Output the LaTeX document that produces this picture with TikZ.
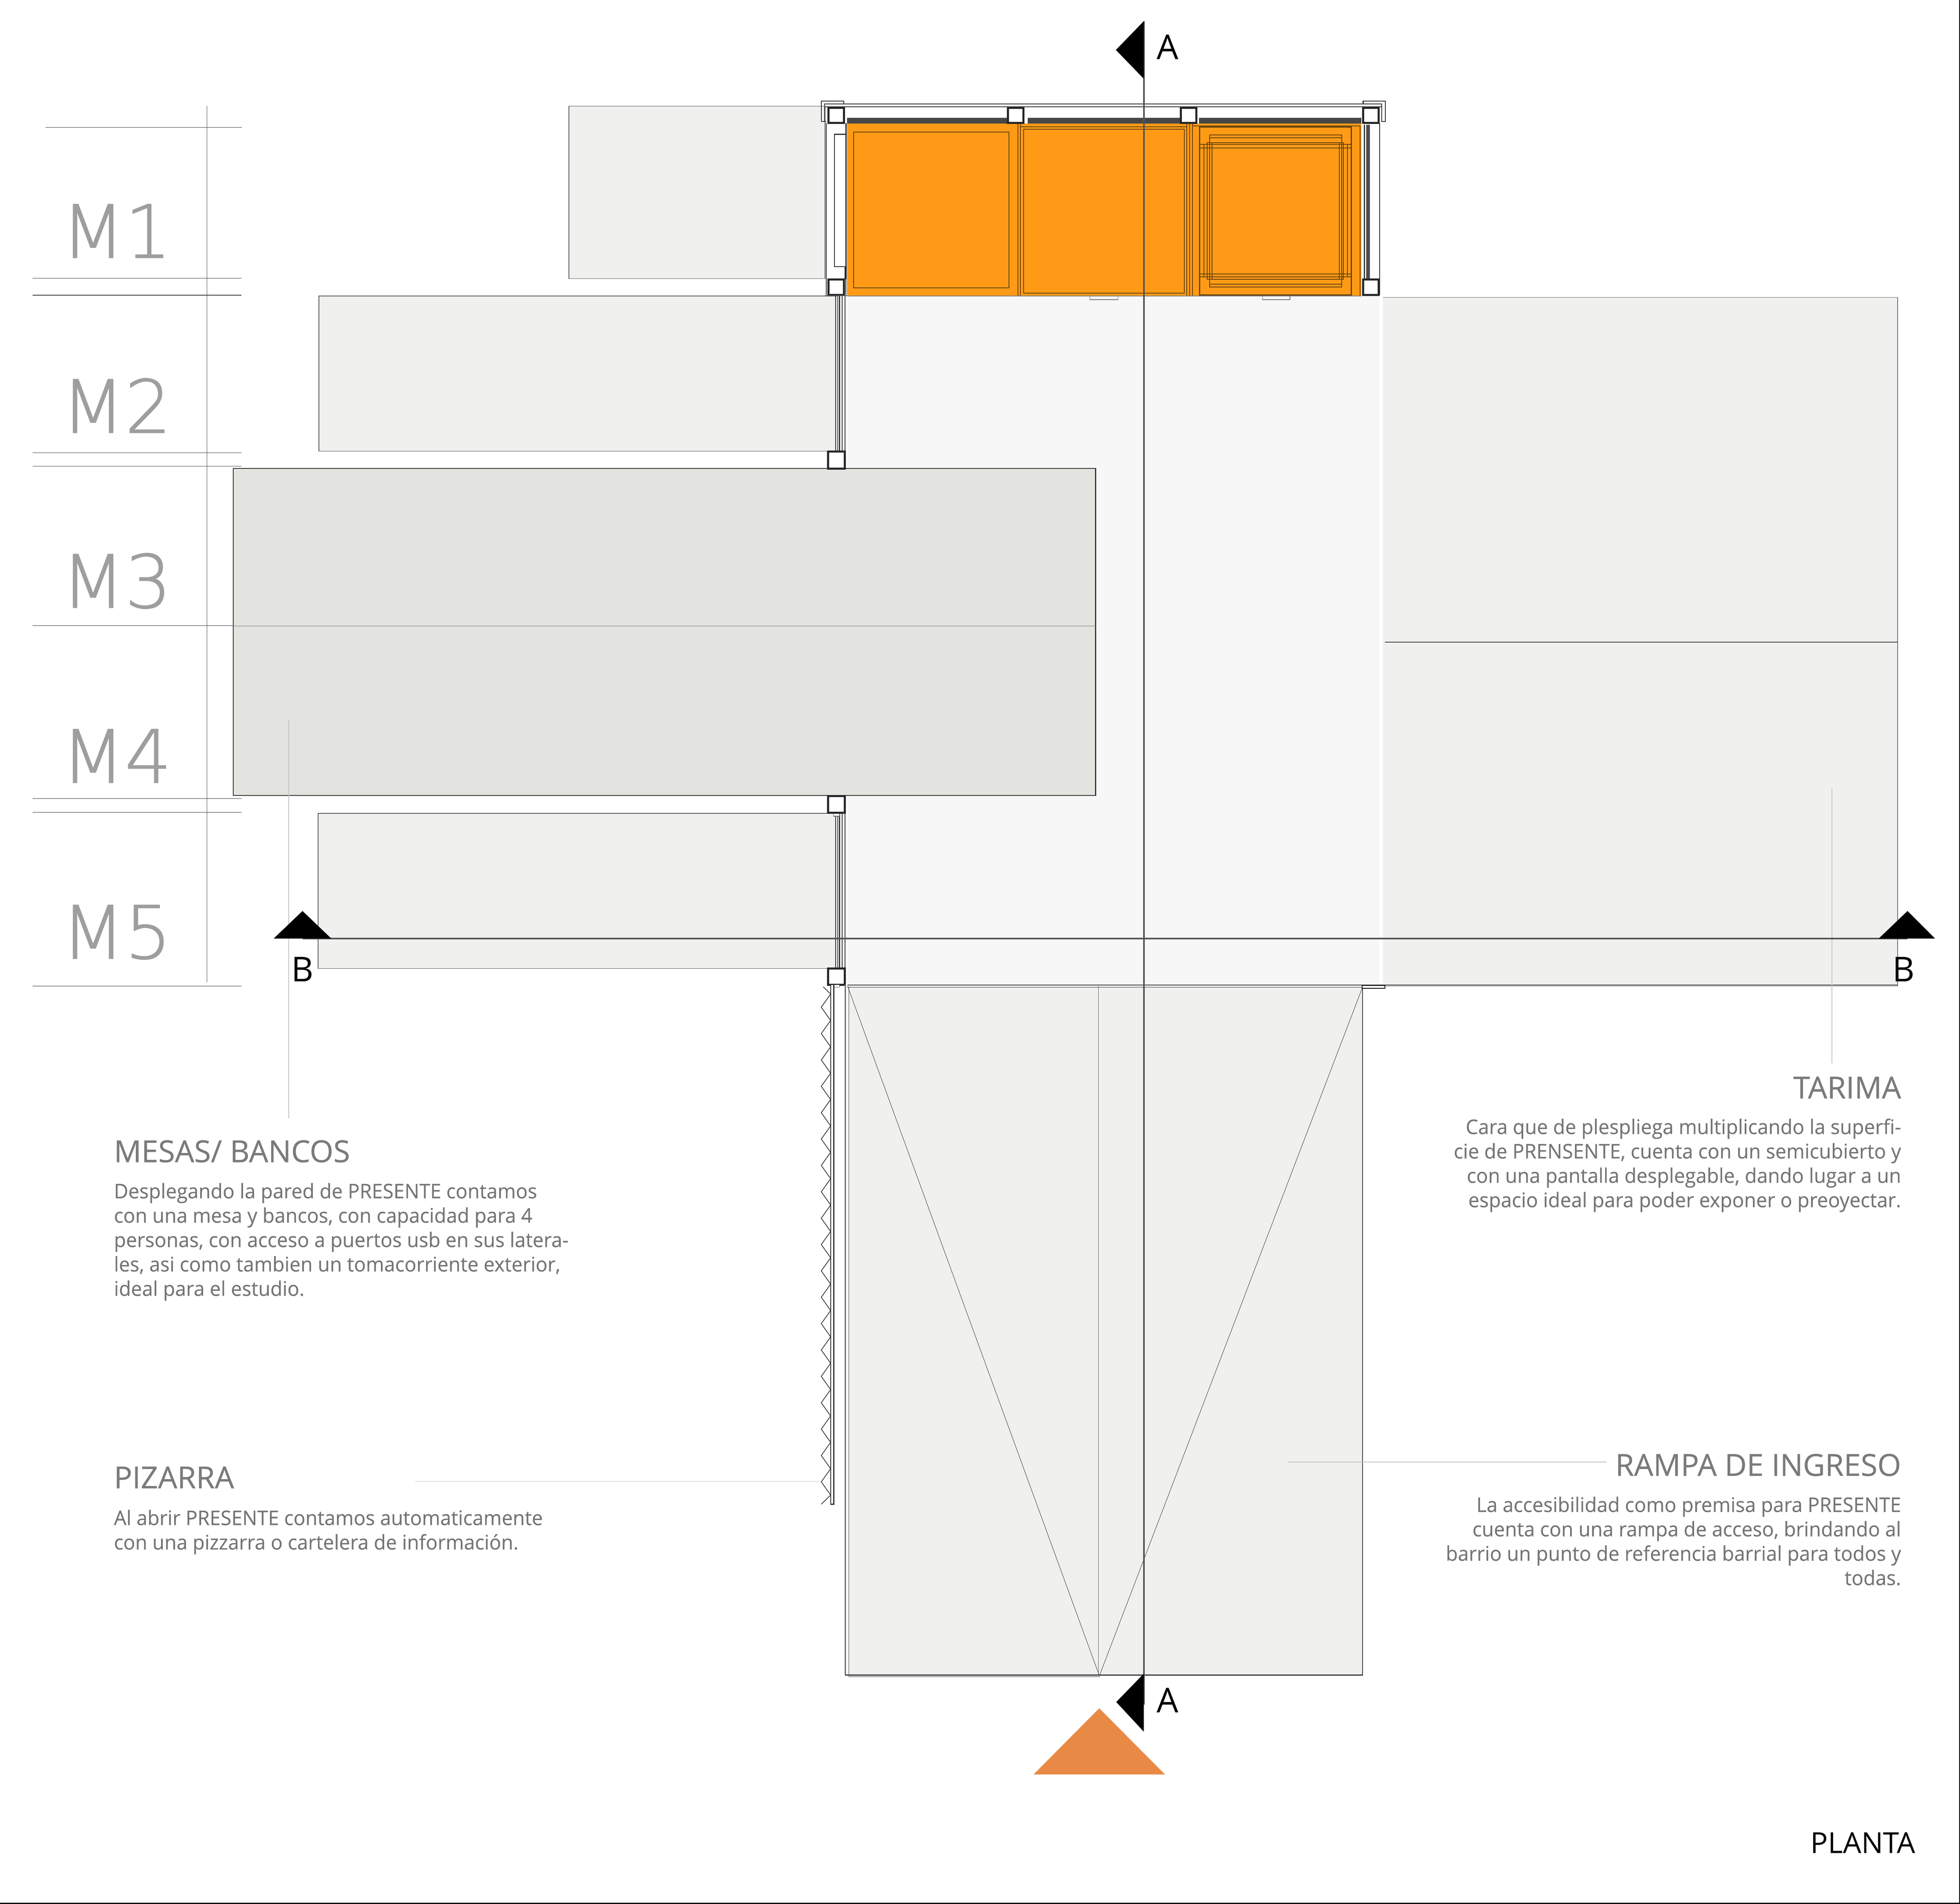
\documentclass[tikz,border=0pt]{standalone}
\usepackage{fontspec}
\setmainfont{Open Sans}[FakeStretch=0.975,FakeBold=0.12]
\newfontfamily\headfont{Open Sans}[FakeStretch=1.0,FakeBold=0.35]
\newfontfamily\numfont{DejaVu Sans ExtraLight}[FakeStretch=1.0,FakeBold=1.0]
\newfontfamily\lblfont{Open Sans}
\definecolor{benchfill}{HTML}{F0F0EF}
\definecolor{tablefill}{HTML}{E3E4E0}
\definecolor{floorfill}{HTML}{F7F7F7}
\definecolor{modorange}{HTML}{FF9A17}
\definecolor{panelline}{HTML}{6B4310}
\definecolor{cutline}{HTML}{555555}
\definecolor{headtext}{HTML}{7A7A7A}
\definecolor{bodytext}{HTML}{747474}
\definecolor{modtext}{HTML}{9E9E9E}
\definecolor{leader}{HTML}{C4C4C4}
\definecolor{entry}{HTML}{E88A45}
\tikzset{
  bench/.style={fill=benchfill,draw=black!65,line width=.18pt},
  guide/.style={draw=black!75,line width=.12pt},
  leadline/.style={draw=leader,line width=.15pt},
  column/.style={fill=white,draw=black!85,line width=.5pt},
  wallline/.style={draw=black!80,line width=.22pt},
  panel/.style={draw=panelline,line width=.2pt},
  panelthick/.style={draw=panelline,line width=.3pt},
  section/.style={draw=cutline,line width=.4pt},
  modlabel/.style={font=\numfont\fontsize{18}{18}\selectfont,text=modtext,anchor=base west,inner sep=0pt},
  cutlabel/.style={font=\lblfont\fontsize{8.4}{8.4}\selectfont,text=black,anchor=base,inner sep=0pt},
  headlabel/.style={font=\headfont\fontsize{7.45}{8}\selectfont,text=headtext,inner sep=0pt},
  bodylabel/.style={font=\fontsize{4.95}{5.98}\selectfont,text=bodytext,inner sep=0pt},
}
\begin{document}
\begin{tikzpicture}[x=0.3065pt,y=-0.3065pt]
\useasboundingbox (0,0) rectangle (1568,1523.6);
\fill[white] (0,0) rectangle (1568,1523.6);
\draw[draw=black,line width=.25pt] (1567.6,0) -- (1567.6,1523.2) -- (0,1523.2);
% floor + benches
\fill[floorfill] (678,237) rectangle (1103.4,789);
\path[bench] (455,85) rectangle (660,223);
\path[bench] (255,237) rectangle (670,361);
\path[bench] (254.5,651) rectangle (670,775);
\fill[benchfill] (1106.3,238) rectangle (1518,789);
\draw[draw=black!55,line width=.15pt] (1106.3,238) -- (1518,238) -- (1518,789) -- (1106.3,789);
\draw[draw=black!75,line width=.2pt] (1108,514) -- (1518,514);
% ramp
\fill[benchfill] (678,789) rectangle (1090,1341);
\draw[draw=black!75,line width=.22pt] (676.2,789) -- (676.2,1340.4) -- (1090,1340.4) -- (1090,790);
\draw[draw=black!70,line width=.12pt] (679,789.5) -- (679,1341.8) -- (880,1341.8);
\draw[draw=black!65,line width=.12pt] (878.8,789) -- (878.8,1341);
\draw[draw=black!75,line width=.1pt] (678,789) -- (879.5,1341) -- (1090,790);
\draw[draw=black!80,line width=.15pt] (678,790) -- (1090,790);
\draw[draw=black!75,line width=.2pt] (678,788.4) -- (1518,788.4);
\draw[fill=white,draw=black,line width=.2pt] (1089.6,788.5) rectangle (1108,791);
% table
\path[fill=tablefill,draw=black!80,line width=.22pt] (186.5,375) rectangle (876.5,636.5);
\draw[draw=black!55,line width=.12pt] (186.5,501) -- (876.5,501);
% guides
\draw[guide] (165.5,85) -- (165.5,786);
\draw[guide] (36.5,102) -- (193.5,102);
\foreach \yy in {222.7,236.2,362.2,373.2,639,650,789}
  \draw[guide] (26,\yy) -- (193,\yy);
\draw[guide] (26,500.6) -- (186.5,500.6);
% module labels
\node[modlabel] (m1) at (48.5,206.3) {M1};
\node[modlabel] (m2) at (48.5,346.3) {M2};
\node[modlabel] (m3) at (48.5,486.3) {M3};
\node[modlabel] (m4) at (48.5,626.3) {M4};
\node[modlabel] (m5) at (48.5,767) {M5};
% orange module
\fill[modorange] (677.7,98.8) rectangle (1089,237);
\fill[black!72] (677.7,94.3) rectangle (806.3,98.8);
\fill[black!72] (822,94.3) rectangle (943.7,98.8);
\fill[black!72] (959.3,94.3) rectangle (1089,98.8);
\draw[wallline,fill=white] (659.6,83.1) rectangle (1105.4,85.5);
\draw[wallline] (657,97.3) -- (657,81) -- (675,81) -- (675,83);
\draw[wallline] (1090.5,83) -- (1090.5,81) -- (1108.2,81) -- (1108.2,97.3) -- (1105,97.3);
\draw[wallline] (657,97.3) -- (661,97.3);
\draw[wallline] (659.6,85.5) -- (659.6,97);
\draw[wallline] (1105.4,85.5) -- (1105.4,97);
% panels
\draw[panel] (683,105.6) rectangle (807.3,230.3);
\draw[panel] (814.2,99) -- (814.2,237);
\draw[panel] (816.3,99) -- (816.3,237);
\draw[panel] (816.3,101.5) -- (949.3,101.5);
\draw[panel] (818.8,103.5) rectangle (947.5,234.7);
\draw[panel] (949.3,99) -- (949.3,237);
\draw[panel] (951.8,99) -- (951.8,237);
\draw[panel] (954,99) -- (954,237);
\draw[panel] (954,100.8) -- (1088,100.8) -- (1088,237);
\draw[panelthick] (959.6,101.8) rectangle (1081,236);
\draw[panel] (967.8,108) rectangle (1073.3,229.6);
\draw[panel] (967.8,110.4) -- (1073.3,110.4);
\draw[panel] (967.8,227.3) -- (1073.3,227.3);
\draw[panel] (965.6,114.2) rectangle (1074.8,223.5);
\draw[panel] (959.6,115.6) -- (1081,115.6);
\draw[panel] (959.6,118.3) -- (1081,118.3);
\draw[panel] (959.6,219.2) -- (1081,219.2);
\draw[panel] (959.6,221.5) -- (1081,221.5);
\draw[panel] (963,115.6) -- (963,221.5);
\draw[panel] (969.5,114.2) -- (969.5,223.5);
\draw[panel] (1071.5,114.2) -- (1071.5,223.5);
\draw[panel] (1078,115.6) -- (1078,221.5);
% door tabs
\draw[draw=black!55,fill=floorfill,line width=.18pt] (871.9,237) -- (871.9,239.7) -- (894.4,239.7) -- (894.4,237);
\draw[draw=black!55,fill=floorfill,line width=.18pt] (1009.9,237) -- (1009.9,239.7) -- (1032,239.7) -- (1032,237);
% left wall of module
\fill[white] (661,98.4) rectangle (676.8,236);
\draw[wallline] (661,98.4) -- (661,236);
\draw[wallline,fill=white] (667.4,107.5) rectangle (676.8,213.4);
\draw[draw=black!85,line width=.3pt] (676.8,98.4) -- (676.8,107.5);
\draw[draw=black!85,line width=.5pt] (676.6,213.4) -- (676.6,223.5);
\draw[draw=black!85,line width=.2pt] (676.8,98.4) -- (676.8,236);
% right wall of module
\fill[white] (1096,98.4) rectangle (1103.6,236);
\fill[black!70] (1093,99.7) rectangle (1096,222.8);
\draw[wallline] (1091.5,99.7) -- (1091.5,223);
\draw[wallline] (1103.6,98.4) -- (1103.6,236);
% columns
\path[column] (662.7,86.2) rectangle (675.2,98.4);
\path[column] (806.3,86.2) rectangle (818.8,98.4);
\path[column] (944.7,86.2) rectangle (957.1,98.4);
\path[column] (1090.5,86.2) rectangle (1103,98.4);
\path[column] (662.7,223.5) rectangle (675.2,236);
\path[column] (1090.5,223.5) rectangle (1103,236);
\draw[draw=black!70,line width=.15pt] (660,236.5) -- (677.7,236.5);
\draw[draw=black!50,line width=.2pt] (677.7,237) -- (1089,237);
% left wall, M2 and M5
\foreach \xx in {668.5,671.6,673.7,676} {
  \draw[wallline] (\xx,237) -- (\xx,361.5);
  \draw[wallline] (\xx,650.5) -- (\xx,775);
}
\draw[draw=black!60,fill=white,line width=.15pt] (666.7,650.8) rectangle (671.6,653.1);
\path[column] (662.5,361.5) rectangle (675.9,375);
\path[column] (662.5,636.9) rectangle (675.9,650.5);
\path[column] (662.5,775) rectangle (675.9,788);
\draw[draw=black!60,fill=white,line width=.15pt] (666.7,788) rectangle (671.6,790);
% pizarra
\draw[draw=black!80,fill=white,line width=.22pt] (664.5,788) rectangle (667,1203.7);
\draw[draw=black!50,line width=.2pt] (676,788) -- (676,1340);
\draw[draw=black!80,line width=.17pt] (658.5,789.6) -- (664.5,795.5);
\foreach \k in {0,...,18}
  \draw[draw=black!80,line width=.17pt,line join=round] (664.5,{795.5+21.1*\k}) -- (657,{806+21.1*\k}) -- (664.5,{816.6+21.1*\k});
\draw[draw=black!80,line width=.17pt] (664.5,1196.4) -- (657,1203.7);
% leaders
\coordinate (l1a) at (231,576); \coordinate (l1b) at (231,895);
\coordinate (l2a) at (1465.5,631); \coordinate (l2b) at (1465.5,851);
\coordinate (l3a) at (332,1185.5); \coordinate (l3b) at (655,1185.5);
\coordinate (l4a) at (1030,1170); \coordinate (l4b) at (1285,1170);
\draw[leadline] (l1a) -- (l1b);
\draw[leadline] (l2a) -- (l2b);
\draw[leadline] (l3a) -- (l3b);
\draw[leadline] (l4a) -- (l4b);
% section A-A
\coordinate (a1) at (915,17); \coordinate (a2) at (915,1364);
\draw[section] (a1) -- (a2);
\fill[black] (892.7,40) -- (915,17) -- (915,63) -- cycle;
\fill[black] (893,1362) -- (915,1339.3) -- (915,1385.7) -- cycle;
\node[cutlabel] (atop) at (934,47.5) {A};
\node[cutlabel] (abot) at (934,1370.5) {A};
% section B-B
\coordinate (b1) at (242,751); \coordinate (b2) at (1526,751);
\draw[section] (b1) -- (b2);
\fill[black] (219,751) -- (242,729) -- (265,751) -- cycle;
\fill[black] (1503,751) -- (1526,729) -- (1548,751) -- cycle;
\node[cutlabel] (bl) at (242,785.5) {B};
\node[cutlabel] (br) at (1523,785.5) {B};
% entry
\fill[entry] (879.4,1367) -- (932,1420) -- (826.8,1420) -- cycle;
% texts
\node[headlabel,anchor=base west] (h1) at (90.5,930) {MESAS/ BANCOS};
\node[bodylabel,anchor=north west,align=left] (t1) at (90.5,946) {Desplegando la pared de PRESENTE contamos\\con una mesa y bancos, con capacidad para 4\\personas, con acceso a puertos usb en sus latera-\\les, asi como tambien un tomacorriente exterior,\\ideal para el estudio.};
\node[headlabel,anchor=base west] (h2) at (90.5,1191) {PIZARRA};
\node[bodylabel,anchor=north west,align=left] (t2) at (90.5,1207.5) {Al abrir PRESENTE contamos automaticamente\\con una pizzarra o cartelera de información.};
\node[headlabel,anchor=base east] (h3) at (1521.5,879) {TARIMA};
\node[bodylabel,anchor=north east,align=right] (t3) at (1521.5,894.5) {Cara que de plespliega multiplicando la superfi-\\cie de PRENSENTE, cuenta con un semicubierto y\\con una pantalla desplegable, dando lugar a un\\espacio ideal para poder exponer o preoyectar.};
\node[headlabel,anchor=base east] (h4) at (1521.5,1181) {RAMPA DE INGRESO};
\node[bodylabel,anchor=north east,align=right] (t4) at (1521.5,1197) {La accesibilidad como premisa para PRESENTE\\cuenta con una rampa de acceso, brindando al\\barrio un punto de referencia barrial para todos y\\todas.};
\node[font=\lblfont\fontsize{7.1}{8}\selectfont,text=black,anchor=base east,inner sep=0pt] (pl) at (1533,1483) {PLANTA};
\end{tikzpicture}
\end{document}
